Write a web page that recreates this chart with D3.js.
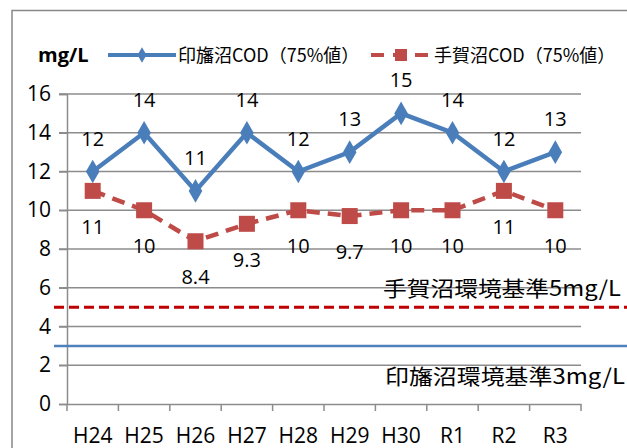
<!DOCTYPE html>
<html>
<head>
<meta charset="utf-8">
<style>
body{margin:0;background:#fff;}
text{font-family:"Noto Sans CJK JP","Noto Sans",sans-serif;fill:#000;}
</style>
</head>
<body>
<div id="chart"></div>
<script src="https://cdn.jsdelivr.net/npm/d3@7"></script>
<script>
// data
var years = ["H24","H25","H26","H27","H28","H29","H30","R1","R2","R3"];
var inba  = [12,14,11,14,12,13,15,14,12,13];
var tega  = [11,10,8.4,9.3,10,9.7,10,10,11,10];
var yTicks = [0,2,4,6,8,10,12,14,16];
var stdTega = 5, stdInba = 3;

var W = 627, H = 448;
var svg = d3.select("#chart").append("svg").attr("width", W).attr("height", H);

// outer frame
svg.append("rect").attr("x", 12).attr("y", 10.5).attr("width", 640).attr("height", 460)
  .attr("fill", "none").attr("stroke", "#888").attr("stroke-width", 1.5);

var pLeft = 67, pRight = 581, pTop = 94, pBottom = 404;
var x = d3.scaleBand().domain(years).range([pLeft, pRight]);
var y = d3.scaleLinear().domain([0, 16]).range([pBottom, pTop]);

// gridlines
svg.append("g").selectAll("line").data(yTicks.slice(1)).enter().append("line")
  .attr("x1", pLeft - 8).attr("x2", pRight)
  .attr("y1", function (d) { return y(d); }).attr("y2", function (d) { return y(d); })
  .attr("stroke", "#8c8c8c").attr("stroke-width", 1.5);

// y axis
var ya = svg.append("g").attr("transform", "translate(" + pLeft + ",0)")
  .call(d3.axisLeft(y).tickValues(yTicks).tickSize(8).tickPadding(8));
ya.select(".domain").attr("stroke", "#8c8c8c").attr("stroke-width", 1.5);
ya.selectAll(".tick line").attr("stroke", "#8c8c8c").attr("stroke-width", 1.5);
ya.selectAll("text").style("font-size", "21px").style("font-family", "Open Sans, sans-serif");

// x axis
var xa = svg.append("g").attr("transform", "translate(0," + pBottom + ")")
  .call(d3.axisBottom(x).tickSize(0).tickPadding(24));
xa.select(".domain").attr("stroke", "#8c8c8c").attr("stroke-width", 1.5);
xa.selectAll("text").style("font-size", "21px").style("font-family", "Open Sans, sans-serif");
svg.append("g").selectAll("line").data(years.concat(["end"])).enter().append("line")
  .attr("x1", function (d, i) { return pLeft + i * x.step(); })
  .attr("x2", function (d, i) { return pLeft + i * x.step(); })
  .attr("y1", pBottom).attr("y2", pBottom + 7)
  .attr("stroke", "#8c8c8c").attr("stroke-width", 1.5);

// standard lines
svg.append("line").attr("x1", 54).attr("x2", W).attr("y1", y(stdTega)).attr("y2", y(stdTega))
  .attr("stroke", "#c00000").attr("stroke-width", 3).attr("stroke-dasharray", "10,5");
svg.append("line").attr("x1", 54).attr("x2", W).attr("y1", y(stdInba)).attr("y2", y(stdInba))
  .attr("stroke", "#4f81bd").attr("stroke-width", 2.5);
svg.append("text").attr("x", 383).attr("y", 296)
  .attr("textLength", 238).attr("lengthAdjust", "spacingAndGlyphs")
  .style("font-size", "21px").text("手賀沼環境基準5mg/L");
svg.append("text").attr("x", 385).attr("y", 384)
  .attr("textLength", 240).attr("lengthAdjust", "spacingAndGlyphs")
  .style("font-size", "21px").text("印旛沼環境基準3mg/L");

var cx = function (d, i) { return x(years[i]) + x.bandwidth() / 2; };
var line = d3.line().x(function (d, i) { return cx(d, i); }).y(function (d) { return y(d); });

// teganuma series
svg.append("path").datum(tega).attr("d", line).attr("fill", "none")
  .attr("stroke", "#be4b48").attr("stroke-width", 4.5).attr("stroke-dasharray", "13,8");
svg.append("g").selectAll("rect").data(tega).enter().append("rect")
  .attr("x", function (d, i) { return cx(d, i) - 8; }).attr("y", function (d) { return y(d) - 8; })
  .attr("width", 16).attr("height", 16).attr("fill", "#be4b48");

// inbanuma series
svg.append("path").datum(inba).attr("d", line).attr("fill", "none")
  .attr("stroke", "#4a7ebb").attr("stroke-width", 4.5);
svg.append("g").selectAll("path").data(inba).enter().append("path")
  .attr("d", d3.symbol().type(d3.symbolDiamond).size(160))
  .attr("transform", function (d, i) { return "translate(" + cx(d, i) + "," + y(d) + ")"; })
  .attr("fill", "#4a7ebb");

// value labels
svg.append("g").selectAll("text").data(inba).enter().append("text")
  .attr("x", cx).attr("y", function (d) { return y(d) - 26; }).attr("text-anchor", "middle")
  .style("font-size", "20px").style("font-family", "Open Sans, sans-serif").text(function (d) { return d; });
svg.append("g").selectAll("text").data(tega).enter().append("text")
  .attr("x", cx).attr("y", function (d) { return y(d) + 43; }).attr("text-anchor", "middle")
  .style("font-size", "20px").style("font-family", "Open Sans, sans-serif").text(function (d) { return d; });

// unit + legend
svg.append("text").attr("x", 38).attr("y", 62).style("font-size", "20px").style("font-weight", "bold")
  .style("font-family", "Open Sans, sans-serif").text("mg/L");
svg.append("line").attr("x1", 108).attr("x2", 176).attr("y1", 55).attr("y2", 55)
  .attr("stroke", "#4a7ebb").attr("stroke-width", 4);
svg.append("path").attr("d", d3.symbol().type(d3.symbolDiamond).size(70)).attr("transform", "translate(142,55)")
  .attr("fill", "#4a7ebb");
svg.append("text").attr("x", 178).attr("y", 62).style("font-size", "18px").text("印旛沼COD（75%値）");
svg.append("line").attr("x1", 371).attr("x2", 432).attr("y1", 55).attr("y2", 55)
  .attr("stroke", "#be4b48").attr("stroke-width", 4).attr("stroke-dasharray", "13,9");
svg.append("rect").attr("x", 395).attr("y", 49).attr("width", 12).attr("height", 12).attr("fill", "#be4b48");
svg.append("text").attr("x", 434).attr("y", 62).style("font-size", "18px").text("手賀沼COD（75%値）");
</script>
</body>
</html>
